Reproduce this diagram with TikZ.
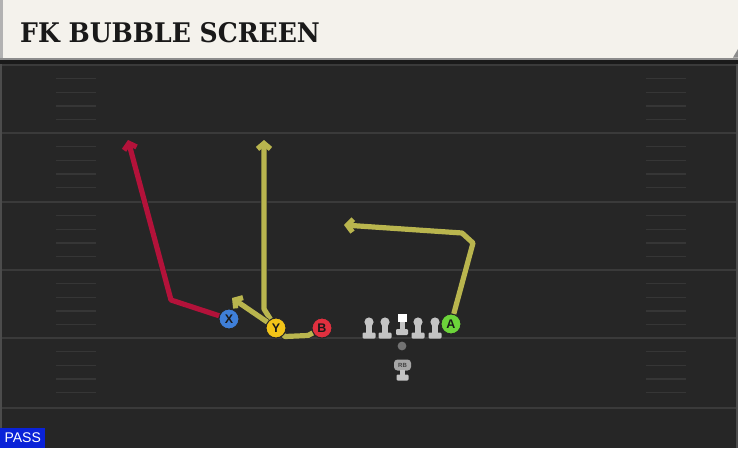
\documentclass[tikz,border=0pt]{standalone}
\usepackage{fontspec}
\setmainfont{Liberation Sans}
\newfontfamily\titlefont{DejaVu Serif}
\usetikzlibrary{arrows.meta}
\definecolor{field}{HTML}{262626}
\definecolor{band}{HTML}{1A1A1A}
\definecolor{cream}{HTML}{F4F2EC}
\definecolor{yardc}{HTML}{3A3A3A}
\definecolor{hashc}{HTML}{363636}
\definecolor{routered}{HTML}{B3123A}
\definecolor{routeyel}{HTML}{B9B54E}
\definecolor{pblue}{HTML}{3F7FD8}
\definecolor{pyel}{HTML}{F2C418}
\definecolor{pred}{HTML}{E0303F}
\definecolor{pgreen}{HTML}{6CD43A}
\definecolor{linec}{HTML}{C4C4C4}
\definecolor{passblue}{HTML}{0A22D8}
\tikzset{
  yard/.style={draw=yardc, line width=1.8pt},
  hashmark/.style={draw=hashc, line width=1.3pt},
  player/.style={circle, draw=black!85, line width=1pt, minimum size=20pt, inner sep=0pt, font=\bfseries\fontsize{12.5}{12.5}\selectfont, text=black!90},
  route/.style={line width=5.2pt, line join=round, -{Straight Barb[length=5.5pt,width=13pt]}, preaction={draw=black!85, line width=6.6pt}},
  routeplain/.style={line width=5.2pt, line join=round, preaction={draw=black!85, line width=6.6pt}},
}
\begin{document}
\begin{tikzpicture}[x=1pt,y=-1pt]
\useasboundingbox (0,0) rectangle (738,448);
\fill[field] (0,0) rectangle (738,448);
\fill[band] (0,56) rectangle (738,64);
% yard lines
\foreach \yy in {65,133,202,270,338,408} \draw[yard] (0,\yy) -- (738,\yy);
% hash marks
\foreach \yy in {65,133,202,270,338} {
  \foreach \k in {1,2,3,4} {
    \draw[hashmark] (56,\yy+13.7*\k) -- (96,\yy+13.7*\k);
    \draw[hashmark] (646,\yy+13.7*\k) -- (686,\yy+13.7*\k);
  }
}
\draw[draw=black!70!white, line width=1.5pt] (1,64) -- (1,448);
\draw[draw=black!70!white, line width=1.5pt] (737,64) -- (737,448);
% title bar
\fill[black!45!white] (0,57) rectangle (738,59.5);
\fill[cream] (0,0) rectangle (738,57.5);
\fill[black!45!white] (738,49) -- (738,57.5) -- (733,57.5) -- cycle;
\fill[gray!60] (0,0) rectangle (2.5,57.5);
\node[anchor=base west, inner sep=0pt, text=black!90, font=\titlefont\bfseries\fontsize{27}{27}\selectfont, xscale=0.93] (title) at (20,42) {FK BUBBLE SCREEN};
% PASS label
\node[anchor=south west, fill=passblue, text=white, inner sep=0pt, minimum width=45pt, minimum height=20pt, font=\fontsize{14}{14}\selectfont] (pass) at (0,448) {PASS};
% offensive line
\foreach \x in {369,385,418,435} {
  \fill[linec] (\x,322) circle (4.6);
  \fill[linec] (\x-2.6,322) rectangle (\x+2.6,334);
  \fill[linec, rounded corners=1.2pt] (\x-6.5,332.5) rectangle (\x+6.5,338.5);
}
\fill[white] (397.5,313.5) rectangle (406.5,322);
\fill[linec] (399.5,322) rectangle (404.5,330);
\fill[linec, rounded corners=1.2pt] (396,329) rectangle (408,335);
% QB
\fill[black!55!white] (402,346) circle (4.4);
% RB
\node[fill=black!35!white, rounded corners=3.5pt, inner sep=0pt, minimum width=17pt, minimum height=11pt, font=\bfseries\fontsize{6}{6}\selectfont, text=black!75] (rb) at (402.5,365) {RB};
\fill[linec] (400,370) rectangle (405,376);
\fill[linec, rounded corners=1.2pt] (396.5,374.5) rectangle (408.5,380.5);
% players
\node[player, fill=pblue] (X) at (229,319) {X};
\node[player, fill=pyel] (Y) at (276,328) {Y};
\node[player, fill=pred] (B) at (322,328) {B};
\node[player, fill=pgreen] (A) at (451,324) {A};
% routes
\coordinate (xend) at (128,140);
\coordinate (yend) at (264,140);
\coordinate (bubend) at (232,298);
\coordinate (aend) at (344,225);
\draw[route, draw=routered] (X) -- (171,300) -- (xend);
\draw[route, draw=routeyel] (Y) -- (264,309) -- (yend);
\draw[route, draw=routeyel] (Y) -- (bubend);
\draw[routeplain, draw=routeyel] (B) -- (308,335.5) -- (285,336.5) -- (Y);
\draw[route, draw=routeyel] (A) -- (473,243) -- (462,233) -- (aend);
\end{tikzpicture}
\end{document}
